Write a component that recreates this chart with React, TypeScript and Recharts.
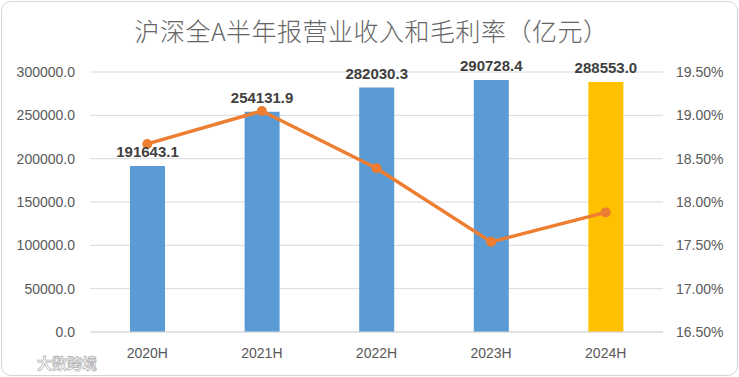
import React from 'react';
import { ComposedChart, Bar, Line, XAxis, YAxis, CartesianGrid, LabelList, Cell } from 'recharts';

const categories = ['2020H', '2021H', '2022H', '2023H', '2024H'];
const revenue = [191643.1, 254131.9, 282030.3, 290728.4, 288553.0];
const grossMargin = [18.67, 19.05, 18.39, 17.54, 17.88];
const leftTicks = [0, 50000, 100000, 150000, 200000, 250000, 300000];
const rightTicks = [16.5, 17.0, 17.5, 18.0, 18.5, 19.0, 19.5];
const title = '沪深全A半年报营业收入和毛利率（亿元）';
const watermark = '大数跨境';

const data = categories.map((c, i) => ({ name: c, revenue: revenue[i], margin: grossMargin[i] }));

const FONT = '"Liberation Sans", Arial, sans-serif';

export default function App() {
  return (
    <div style={{ position: 'absolute', left: 0, top: 0, width: 739, height: 377, background: '#fff' }}>
      <ComposedChart width={739} height={377} data={data} margin={{ top: 72, right: 0, bottom: 0, left: 0 }}>
        <CartesianGrid yAxisId="left" vertical={false} stroke="#d9d9d9" strokeWidth={1} />
        <XAxis
          dataKey="name"
          height={45}
          tickLine={false}
          axisLine={{ stroke: '#d9d9d9' }}
          tickSize={0}
          tickMargin={16}
          tick={{ fill: '#595959', fontSize: 14, fontFamily: FONT }}
        />
        <YAxis
          yAxisId="left"
          width={90}
          domain={[0, 300000]}
          ticks={leftTicks}
          tickFormatter={(v: number) => v.toFixed(1)}
          axisLine={false}
          tickLine={false}
          tickSize={0}
          tickMargin={15}
          tick={{ fill: '#595959', fontSize: 14, fontFamily: FONT }}
        />
        <YAxis
          yAxisId="right"
          orientation="right"
          width={76}
          domain={[16.5, 19.5]}
          ticks={rightTicks}
          tickFormatter={(v: number) => v.toFixed(2) + '%'}
          axisLine={false}
          tickLine={false}
          tickSize={0}
          tickMargin={13}
          tick={{ fill: '#595959', fontSize: 14, fontFamily: FONT, textAnchor: 'start' }}
        />
        <Bar yAxisId="left" dataKey="revenue" barSize={35} isAnimationActive={false}>
          {data.map((d, i) => (
            <Cell key={d.name} fill={i === data.length - 1 ? '#FFC000' : '#5B9BD5'} />
          ))}
          <LabelList
            dataKey="revenue"
            position="top"
            offset={9}
            formatter={(v: number) => Number(v).toFixed(1)}
            style={{ fill: '#404040', fontSize: 15, fontWeight: 'bold', fontFamily: FONT }}
          />
        </Bar>
        <Line
          yAxisId="right"
          dataKey="margin"
          stroke="#ED7D31"
          strokeWidth={3.5}
          dot={{ r: 5, fill: '#ED7D31', stroke: '#ED7D31', strokeWidth: 0 }}
          isAnimationActive={false}
        />
      </ComposedChart>
      <div
        style={{
          position: 'absolute', left: 8, top: 13, width: 727, textAlign: 'center',
          fontFamily: '"Noto Sans CJK SC", sans-serif', fontSize: 25, letterSpacing: '0.5px', color: '#666666',
          lineHeight: '34px', fontWeight: 300,
        }}
      >
        {title}
      </div>
      <div
        style={{
          position: 'absolute', left: 37, top: 353, fontFamily: '"Noto Sans CJK SC", sans-serif',
          fontSize: 15, lineHeight: '20px', color: '#fff', WebkitTextStroke: '0.8px #b8b8b8', fontWeight: 'bold',
        }}
      >
        {watermark}
      </div>
      <div
        style={{
          position: 'absolute', left: 1, top: 1, width: 735, height: 373, border: '1px solid #d4d4d4',
          borderRadius: 10, pointerEvents: 'none',
        }}
      />
    </div>
  );
}
